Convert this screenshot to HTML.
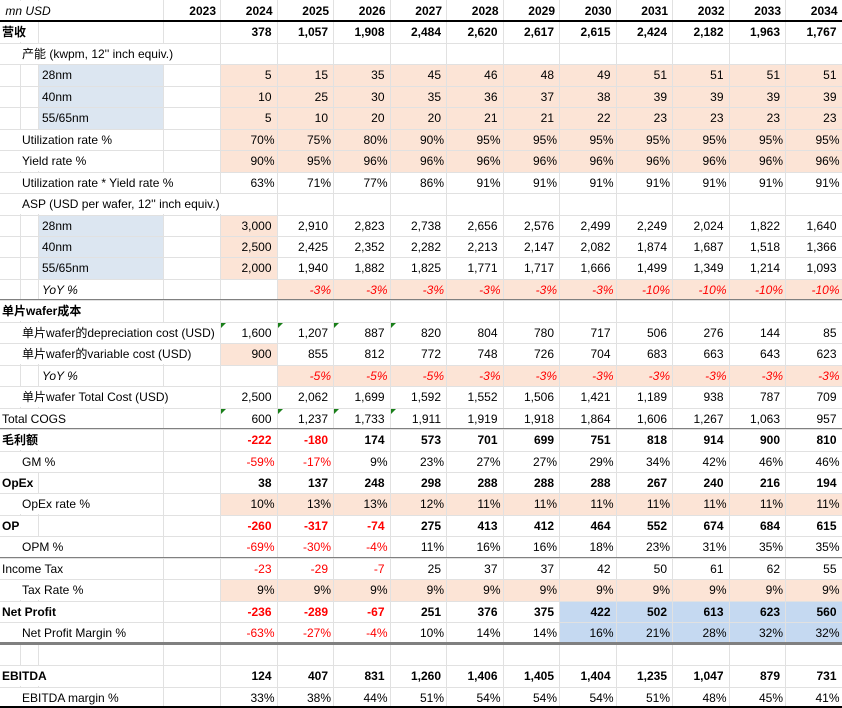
<!DOCTYPE html>
<html><head><meta charset="utf-8">
<style>
html,body{margin:0;padding:0;background:#fff;}
#sheet{position:relative;width:842px;height:708px;overflow:hidden;font-family:"Liberation Sans","Noto Sans CJK SC",sans-serif;font-size:12px;color:#000;}
.c{position:absolute;box-sizing:border-box;}
.t{position:absolute;white-space:nowrap;line-height:20px;}
.vl{position:absolute;top:0;width:1px;height:708px;background:#e1e1e1;}
.hl{position:absolute;left:0;width:842px;height:1px;background:#e1e1e1;}
.tri{position:absolute;width:0;height:0;border-top:5px solid #1a7f1a;border-right:5px solid transparent;}
</style></head>
<body>
<div id="sheet"></div>
<script>
const years = ["2023","2024","2025","2026","2027","2028","2029","2030","2031","2032","2033","2034"];
const labels = ["营收","产能 (kwpm, 12'' inch equiv.)","28nm","40nm","55/65nm","Utilization rate %","Yield rate %","Utilization rate * Yield rate %","ASP (USD per wafer, 12'' inch equiv.)","28nm","40nm","55/65nm","YoY %","单片wafer成本","单片wafer的depreciation cost (USD)","单片wafer的variable cost (USD)","YoY %","单片wafer Total Cost (USD)","Total COGS","毛利额","GM %","OpEx","OpEx rate %","OP","OPM %","Income Tax","Tax Rate %","Net Profit","Net Profit Margin %","","EBITDA","EBITDA margin %"];
const revenue = [null,378,1057,1908,2484,2620,2617,2615,2424,2182,1963,1767];
const cap28 = [null,5,15,35,45,46,48,49,51,51,51,51];
const cap40 = [null,10,25,30,35,36,37,38,39,39,39,39];
const cap55 = [null,5,10,20,20,21,21,22,23,23,23,23];
const utilRate = [null,70,75,80,90,95,95,95,95,95,95,95];
const yieldRate = [null,90,95,96,96,96,96,96,96,96,96,96];
const utilYield = [null,63,71,77,86,91,91,91,91,91,91,91];
const asp28 = [null,3000,2910,2823,2738,2656,2576,2499,2249,2024,1822,1640];
const asp40 = [null,2500,2425,2352,2282,2213,2147,2082,1874,1687,1518,1366];
const asp55 = [null,2000,1940,1882,1825,1771,1717,1666,1499,1349,1214,1093];
const aspYoY = [null,null,-3,-3,-3,-3,-3,-3,-10,-10,-10,-10];
const depCost = [null,1600,1207,887,820,804,780,717,506,276,144,85];
const varCost = [null,900,855,812,772,748,726,704,683,663,643,623];
const varYoY = [null,null,-5,-5,-5,-3,-3,-3,-3,-3,-3,-3];
const totalCost = [null,2500,2062,1699,1592,1552,1506,1421,1189,938,787,709];
const cogs = [null,600,1237,1733,1911,1919,1918,1864,1606,1267,1063,957];
const grossProfit = [null,-222,-180,174,573,701,699,751,818,914,900,810];
const gm = [null,-59,-17,9,23,27,27,29,34,42,46,46];
const opex = [null,38,137,248,298,288,288,288,267,240,216,194];
const opexRate = [null,10,13,13,12,11,11,11,11,11,11,11];
const op = [null,-260,-317,-74,275,413,412,464,552,674,684,615];
const opm = [null,-69,-30,-4,11,16,16,18,23,31,35,35];
const incomeTax = [null,-23,-29,-7,25,37,37,42,50,61,62,55];
const taxRate = [null,9,9,9,9,9,9,9,9,9,9,9];
const netProfit = [null,-236,-289,-67,251,376,375,422,502,613,623,560];
const npm = [null,-63,-27,-4,10,14,14,16,21,28,32,32];
const ebitda = [null,124,407,831,1260,1406,1405,1404,1235,1047,879,731];
const ebitdaMargin = [null,33,38,44,51,54,54,54,51,48,45,41];

const series = [revenue,null,cap28,cap40,cap55,utilRate,yieldRate,utilYield,null,asp28,asp40,asp55,aspYoY,null,depCost,varCost,varYoY,totalCost,cogs,grossProfit,gm,opex,opexRate,op,opm,incomeTax,taxRate,netProfit,npm,null,ebitda,ebitdaMargin];
const pct = {5:1,6:1,7:1,12:1,16:1,20:1,22:1,24:1,26:1,28:1,31:1};
const bold = {0:1,13:1,19:1,21:1,23:1,27:1,30:1};
const italic = {12:1,16:1};
const indent = {0:2,1:22,2:40,3:40,4:40,5:22,6:22,7:22,8:22,9:40,10:40,11:40,12:42,13:2,14:22,15:22,16:42,17:22,18:2,19:2,20:22,21:2,22:22,23:2,24:22,25:2,26:22,27:2,28:22,29:2,30:2,31:22};
const redNeg = {19:1,20:1,23:1,24:1,25:1,27:1,28:1,12:1,16:1};

const sheet = document.getElementById('sheet');
const RH = 708/33;
const colX = [163,220];
for(let i=1;i<=11;i++) colX.push(220+i*56.5);
const peach = "#fce4d6", blueL = "#dce6f1", blueD = "#c5d9f1";
function fmt(v,p){ if(v===null) return ""; if(p) return v+"%"; return v.toLocaleString("en-US"); }
function rowY(r){ return r*RH; }

function fill(r,c0,c1,color,name){
  const d=document.createElement('div'); d.className='c';
  
  
  d.style.left=colX[c0]+'px'; d.style.width=(colX[c1]-colX[c0])+'px';
  d.style.top=rowY(r)+'px'; d.style.height=RH+'px'; d.style.background=color;
  sheet.appendChild(d);
}
[3,4,5].forEach(r=>{ fill(r,1,12,peach,'capacity-input-fill'); });
[6,7].forEach(r=>fill(r,1,12,peach,'rate-input-fill'));
[10,11,12].forEach(r=>fill(r,1,2,peach,'asp-input-fill'));
fill(13,2,12,peach,'asp-yoy-fill');
fill(16,1,2,peach,'variable-cost-input-fill');
fill(17,2,12,peach,'cost-yoy-fill');
fill(23,1,12,peach,'opex-rate-fill');
fill(27,1,12,peach,'tax-rate-fill');
fill(28,7,12,blueD,'net-profit-highlight');
fill(29,7,12,blueD,'npm-highlight');
[3,4,5,10,11,12].forEach(r=>{
  const d=document.createElement('div'); d.className='c';
  
  
  d.style.left='38px'; d.style.width='125px'; d.style.top=rowY(r)+'px'; d.style.height=RH+'px'; d.style.background=blueL;
  sheet.appendChild(d);
});
[20,38,163].concat(colX.slice(1)).forEach(x=>{
  const v=document.createElement('div'); v.className='vl'; v.style.left=Math.round(x)+'px';
  
  
  sheet.appendChild(v);
});
for(let r=1;r<33;r++){
  const h=document.createElement('div'); h.className='hl'; h.style.top=Math.round(rowY(r))+'px';
  
  
  sheet.appendChild(h);
}
function rule(y,h,color,name){
  const d=document.createElement('div'); d.className='c';
  
  
  d.style.left='0'; d.style.width='842px'; d.style.top=y+'px'; d.style.height=h+'px'; d.style.background=color;
  sheet.appendChild(d);
}
function text(x,y,str,opts,name){
  const s=document.createElement('div'); s.className='t';
  
  
  s.textContent=str; s.style.top=(y+1)+'px';
  if(opts.right!==undefined){ s.style.right=(842-opts.right)+'px'; } else s.style.left=x+'px';
  if(opts.bold) s.style.fontWeight='bold';
  if(opts.italic) s.style.fontStyle='italic';
  if(opts.color) s.style.color=opts.color;
  if(opts.bg){ s.style.background=opts.bg; s.style.paddingRight='3px'; }
  sheet.appendChild(s); return s;
}
// label backgrounds cover gridlines (Excel overflow behaviour)
text(0,0,"",{},'units-cover');
const hdr=text(0,0,"\u00a0mn USD",{italic:1,bg:'#fff'},'units-label');
hdr.style.paddingLeft='2px';
years.forEach((y,i)=>text(0,0,y,{right:colX[i+1]-4,bold:1},'year-header'));

labels.forEach((lab,i)=>{
  const r=i+1, y=rowY(r);
  const blue=[2,3,4,9,10,11].includes(i);
  if(lab){
    const s=text(indent[i]-2,y,lab,{bold:bold[i],italic:italic[i],bg:blue?null:'#fff'},'row-label');
    s.style.paddingLeft='2px';
    if(blue) s.style.left=indent[i]+'px';
  }
  const s=series[i]; if(!s) return;
  s.forEach((v,j)=>{
    if(v===null) return;
    const red = v<0 && redNeg[i];
    text(0,y,fmt(v,pct[i]),{right:colX[j+1]-(pct[i]?2:5),bold:bold[i],italic:italic[i],color:red?'#ff0000':null},'cell-value');
  });
});
rule(Math.round(RH)-1,2,'#000','header-rule');
rule(Math.round(rowY(14))-1,1,'#808080','cost-section-rule');
rule(Math.round(rowY(20))-1,1,'#808080','gross-profit-rule');
rule(Math.round(rowY(26))-1,1,'#808080','income-tax-rule');
rule(Math.round(rowY(30))-2,3,'#808080','net-profit-double-rule');
rule(706,2,'#000','bottom-rule');
[15,19].forEach(r=>{[1,2,3,4].forEach(c=>{
  const t=document.createElement('div'); t.className='tri';
  
  
  t.style.left=(Math.round(colX[c])+1)+'px'; t.style.top=(Math.round(rowY(r))+1)+'px';
  sheet.appendChild(t);
});});
</script>
</body></html>
